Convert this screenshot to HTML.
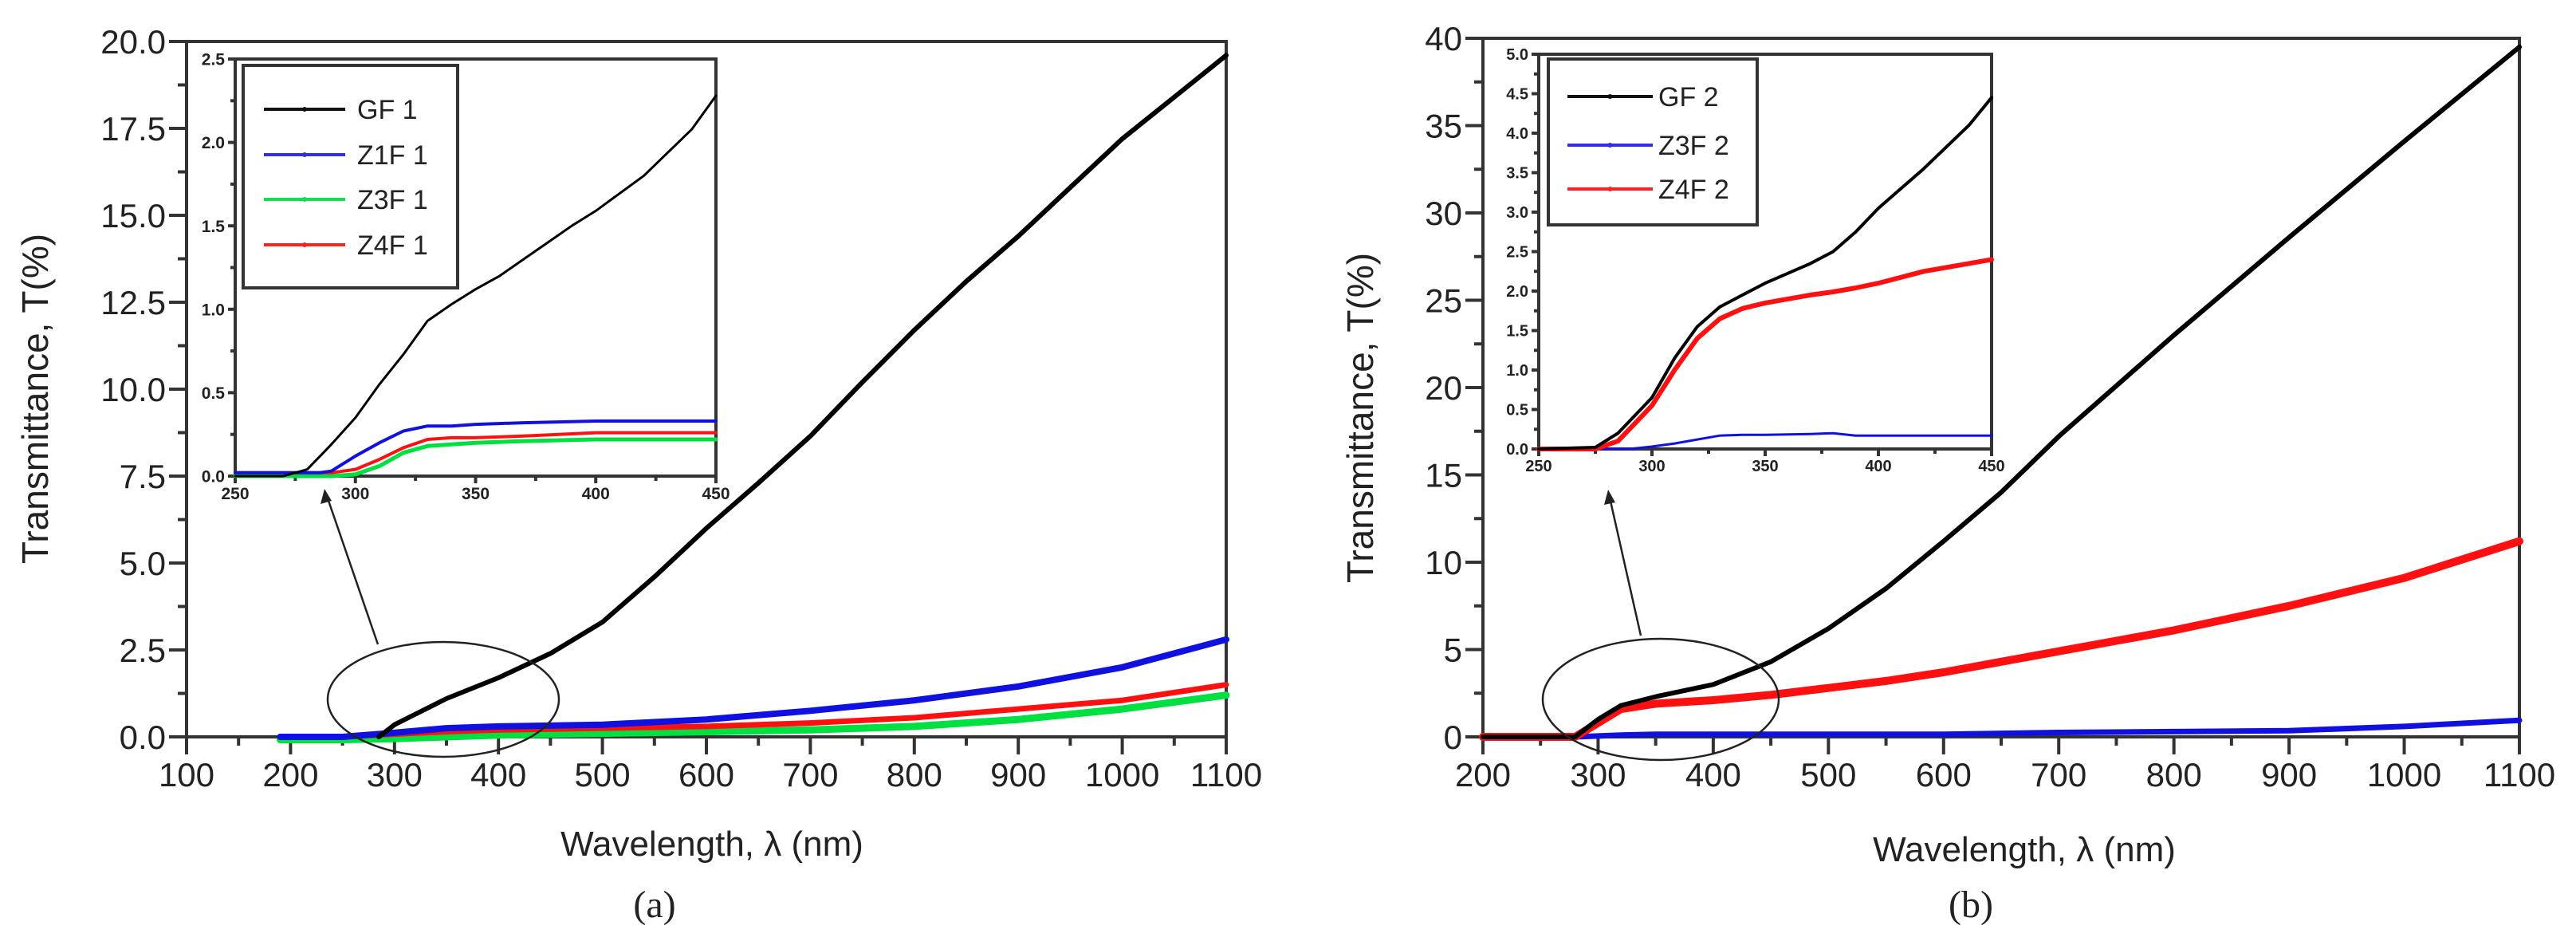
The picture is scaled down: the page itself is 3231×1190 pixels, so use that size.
<!DOCTYPE html>
<html><head><meta charset="utf-8">
<style>
html,body{margin:0;padding:0;background:#fff;}
svg{display:block;}
text{font-family:"Liberation Sans",sans-serif;fill:#222;}
</style></head>
<body>
<svg id="fig" width="3231" height="1190" viewBox="0 0 3231 1190" xmlns="http://www.w3.org/2000/svg"></svg>
<script>
// ---------- Panel (a) data ----------
const aMainX_GF1 = [285,300,350,400,450,500,550,600,650,700,750,800,850,900,950,1000,1050,1100];
const aMainY_GF1 = [0,0.35,1.1,1.7,2.4,3.3,4.6,6.0,7.3,8.65,10.2,11.7,13.1,14.4,15.8,17.2,18.4,19.6];
const aMainX_C = [190,250,300,350,400,500,600,700,800,900,1000,1100];
const aMainY_Z1F1 = [0,0,0.12,0.25,0.3,0.35,0.5,0.75,1.05,1.45,2.0,2.8];
const aMainY_Z4F1 = [0,0,0.08,0.15,0.2,0.25,0.3,0.4,0.55,0.8,1.05,1.5];
const aMainY_Z3F1 = [-0.08,-0.08,-0.05,0.0,0.05,0.1,0.15,0.2,0.3,0.5,0.8,1.2];
const aInsX_GF1 = [250,270,280,290,300,310,320,330,340,350,360,370,380,390,400,420,440,450];
const aInsY_GF1 = [0,0,0.04,0.19,0.35,0.55,0.73,0.93,1.03,1.12,1.2,1.3,1.4,1.5,1.59,1.8,2.08,2.28];
const aInsX_C = [250,285,290,300,310,320,330,340,350,370,400,450];
const aInsY_Z1F1 = [0.02,0.02,0.03,0.12,0.2,0.27,0.3,0.3,0.31,0.32,0.33,0.33];
const aInsY_Z4F1 = [0.02,0.02,0.02,0.04,0.1,0.17,0.22,0.23,0.23,0.24,0.26,0.26];
const aInsY_Z3F1 = [0,0,0,0.01,0.06,0.14,0.18,0.19,0.2,0.21,0.22,0.22];
const aYTicks = ["0.0","2.5","5.0","7.5","10.0","12.5","15.0","17.5","20.0"];
const aXTicks = ["100","200","300","400","500","600","700","800","900","1000","1100"];
const aInsYTicks = ["0.0","0.5","1.0","1.5","2.0","2.5"];
const aInsXTicks = ["250","300","350","400","450"];
const aLegend = ["GF1","Z1F1","Z3F1","Z4F1"];

// ---------- Panel (b) data ----------
const bMainX = [200,250,280,300,320,350,400,450,500,550,600,650,700,800,900,1000,1100];
const bMainY_GF2 = [0,0,0,1.0,1.8,2.3,3.0,4.3,6.2,8.5,11.2,14.0,17.2,23.0,28.6,34.1,39.5];
const bMainY_Z4F2 = [0,0,0,0.8,1.6,1.9,2.1,2.4,2.8,3.2,3.7,4.3,4.9,6.1,7.5,9.1,11.2];
const bMainY_Z3F2 = [null,null,0,0.05,0.1,0.15,0.15,0.15,0.15,0.15,0.15,0.2,0.25,0.3,0.35,0.6,0.95];
const bInsX = [250,275,285,290,300,310,320,330,340,350,370,380,390,400,420,440,450];
const bInsY_GF2 = [0,0.02,0.2,0.35,0.65,1.15,1.55,1.8,1.95,2.1,2.35,2.5,2.75,3.05,3.55,4.1,4.45];
const bInsY_Z4F2 = [0,0,0.1,0.25,0.55,1.0,1.4,1.65,1.78,1.85,1.95,1.99,2.04,2.1,2.25,2.35,2.4];
const bInsY_Z3F2 = [0,0,0,0,0.03,0.07,0.12,0.17,0.18,0.18,0.19,0.2,0.17,0.17,0.17,0.17,0.17];
const bYTicks = ["0","5","10","15","20","25","30","35","40"];
const bXTicks = ["200","300","400","500","600","700","800","900","1000","1100"];
const bInsYTicks = ["0.0","0.5","1.0","1.5","2.0","2.5","3.0","3.5","4.0","4.5","5.0"];
const bInsXTicks = ["250","300","350","400","450"];
const bLegend = ["GF2","Z3F2","Z4F2"];

const NS = "http://www.w3.org/2000/svg";
const svg = document.getElementById('fig');
function el(tag, attrs, parent){
  const e = document.createElementNS(NS, tag);
  for (const k in attrs) e.setAttribute(k, attrs[k]);
  (parent||svg).appendChild(e);
  return e;
}
function scale(d0,d1,p0,p1){ return v => p0 + (v-d0)/(d1-d0)*(p1-p0); }

function axes(g, x, y, xr, yr, xt, yt, xStep, yStep, xMinor, yMinor, font, bold, majLen, minLen, lw, name){
  el('rect',{x:x(xr[0]),y:y(yr[1]),width:x(xr[1])-x(xr[0]),height:y(yr[0])-y(yr[1]),fill:'#fff',stroke:'#333','stroke-width':lw},g);
  for (let v=xr[0]; v<=xr[1]+1e-9; v+=xMinor){
    const maj = Math.abs((v-xr[0])/xStep - Math.round((v-xr[0])/xStep))<1e-6;
    el('line',{x1:x(v),x2:x(v),y1:y(yr[0]),y2:y(yr[0])+(maj?majLen:minLen),stroke:'#333','stroke-width':lw},g);
  }
  for (let v=yr[0]; v<=yr[1]+1e-9; v+=yMinor){
    const maj = Math.abs((v-yr[0])/yStep - Math.round((v-yr[0])/yStep))<1e-6;
    el('line',{x1:x(xr[0]),x2:x(xr[0])-(maj?majLen:minLen),y1:y(v),y2:y(v),stroke:'#333','stroke-width':lw},g);
  }
  xt.forEach((t,i)=>{
    const tx = el('text',{x:x(xr[0]+i*xStep),y:y(yr[0])+majLen+font*0.95,'font-size':font,'text-anchor':'middle','font-weight':bold?'bold':'normal'},g);
    tx.textContent=t;
    
    
  });
  yt.forEach((t,i)=>{
    const tx = el('text',{x:x(xr[0])-majLen-4,y:y(yr[0]+i*yStep)+font*0.36,'font-size':font,'text-anchor':'end','font-weight':bold?'bold':'normal'},g);
    tx.textContent=t;
    
    
  });
}
function series(g, xs, ys, x, y, color, w, name){
  let d='';
  xs.forEach((v,i)=>{ if(ys[i]===null) return; d += (d?'L':'M')+x(v).toFixed(1)+','+y(ys[i]).toFixed(1); });
  const p = el('path',{d:d,fill:'none',stroke:color,'stroke-width':w,'stroke-linejoin':'round','stroke-linecap':'round'},g);
  
  
}
function legend(g, box, names, colors, ys, lx0, lx1, tx, font){
  const r = el('rect',{x:box[0],y:box[1],width:box[2],height:box[3],fill:'#fff',stroke:'#333','stroke-width':4},g);
  
  
  names.forEach((n,i)=>{
    const ln = el('line',{x1:lx0,x2:lx1,y1:ys[i],y2:ys[i],stroke:colors[i],'stroke-width':4},g);
    
    
    el('circle',{cx:(lx0+lx1)/2,cy:ys[i],r:3,fill:colors[i]},g);
    const t = el('text',{x:tx,y:ys[i]+font*0.36,'font-size':font},g);
    t.textContent = n.replace(/F/,'F ').replace(/^G F /,'GF ');
    
    
  });
}
function label(txt, x, y, size, rot, name, serif){
  const t = el('text',{x:x,y:y,'font-size':size,'text-anchor':'middle'});
  if (rot) t.setAttribute('transform','rotate(-90 '+x+' '+y+')');
  if (serif) t.setAttribute('style','font-family:"Liberation Serif",serif');
  t.textContent = txt;
  
  
}

// ===== Panel (a) =====
const gA = el('g',{});


const ax = scale(100,1100,234,1538), ay = scale(0,20,924,52);
axes(gA, ax, ay, [100,1100],[0,20], aXTicks, aYTicks, 100, 2.5, 50, 1.25, 42, false, 22, 11, 4, 'main-a');
series(gA, aMainX_C, aMainY_Z3F1, ax, ay, '#00e040', 9, 'z3f1-line');
series(gA, aMainX_C, aMainY_Z4F1, ax, ay, '#ff1010', 7, 'z4f1-line');
series(gA, aMainX_C, aMainY_Z1F1, ax, ay, '#1010e0', 8, 'z1f1-line');
series(gA, aMainX_GF1, aMainY_GF1, ax, ay, '#000', 6, 'gf1-line');
const ia_x = scale(250,450,295,898), ia_y = scale(0,2.5,597,74);
axes(gA, ia_x, ia_y, [250,450],[0,2.5], aInsXTicks, aInsYTicks, 50, 0.5, 25, 0.25, 21, true, 9, 6, 4, 'inset-a');
series(gA, aInsX_C, aInsY_Z3F1, ia_x, ia_y, '#00e040', 5, 'inset-z3f1-line');
series(gA, aInsX_C, aInsY_Z4F1, ia_x, ia_y, '#ff1010', 4, 'inset-z4f1-line');
series(gA, aInsX_C, aInsY_Z1F1, ia_x, ia_y, '#1010e0', 4, 'inset-z1f1-line');
series(gA, aInsX_GF1, aInsY_GF1, ia_x, ia_y, '#000', 3, 'inset-gf1-line');
legend(gA, [305,82,269,279], aLegend, ['#111','#3030e0','#10e050','#ff2020'], [137,194,250,307], 331, 433, 448, 34);
const ea = el('ellipse',{cx:556,cy:877,rx:145,ry:72,fill:'none',stroke:'#222','stroke-width':2.5},gA);
 
const arA = el('line',{x1:474,y1:808,x2:410,y2:622,stroke:'#222','stroke-width':2.5},gA);
 
el('polygon',{points:'407,613 402,632 416,628',fill:'#222'},gA);
label('Transmittance, T(%)', 60, 500, 46, true, 'y-axis-title-a');
label('Wavelength, λ (nm)', 893, 1073, 44, false, 'x-axis-title-a');
label('(a)', 821, 1150, 48, false, 'panel-label-a', true);

// ===== Panel (b) =====
const gB = el('g',{});


const bx = scale(200,1100,1860,3160), by = scale(0,40,924,48);
axes(gB, bx, by, [200,1100],[0,40], bXTicks, bYTicks, 100, 5, 50, 2.5, 42, false, 22, 11, 4, 'main-b');
series(gB, bMainX, bMainY_Z3F2, bx, by, '#1010e0', 7, 'z3f2-line');
series(gB, bMainX, bMainY_Z4F2, bx, by, '#ff1010', 10, 'z4f2-line');
series(gB, bMainX, bMainY_GF2, bx, by, '#000', 6, 'gf2-line');
const ib_x = scale(250,450,1930,2498), ib_y = scale(0,5,563,68);
axes(gB, ib_x, ib_y, [250,450],[0,5], bInsXTicks, bInsYTicks, 50, 0.5, 25, 0.25, 20, true, 9, 6, 4, 'inset-b');
series(gB, bInsX, bInsY_Z3F2, ib_x, ib_y, '#1010e0', 3, 'inset-z3f2-line');
series(gB, bInsX, bInsY_Z4F2, ib_x, ib_y, '#ff1010', 6, 'inset-z4f2-line');
series(gB, bInsX, bInsY_GF2, ib_x, ib_y, '#000', 4, 'inset-gf2-line');
legend(gB, [1942,74,262,208], bLegend, ['#111','#3030e0','#ff2020'], [121,182,237], 1966, 2073, 2080, 34);
const eb = el('ellipse',{cx:2083,cy:877,rx:148,ry:76,fill:'none',stroke:'#222','stroke-width':2.5},gB);
 
const arB = el('line',{x1:2058,y1:797,x2:2019,y2:624,stroke:'#222','stroke-width':2.5},gB);
 
el('polygon',{points:'2017,614 2012,633 2026,630',fill:'#222'},gB);
label('Transmittance, T(%)', 1722, 524, 46, true, 'y-axis-title-b');
label('Wavelength, λ (nm)', 2539, 1080, 44, false, 'x-axis-title-b');
label('(b)', 2472, 1150, 48, false, 'panel-label-b', true);
</script>
</body></html>
